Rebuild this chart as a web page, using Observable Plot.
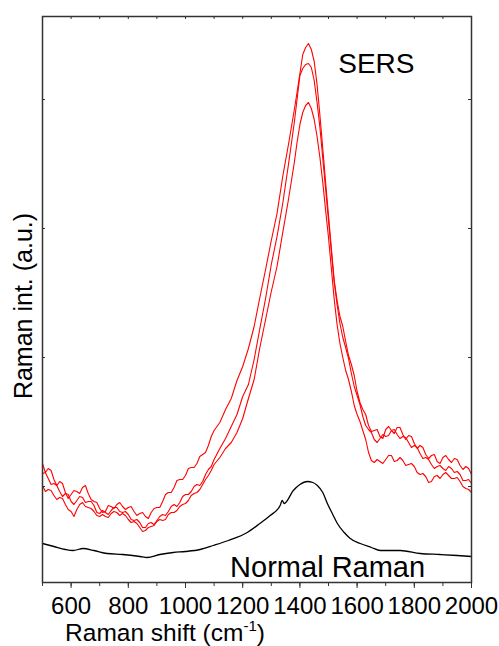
<!DOCTYPE html>
<html><head><meta charset="utf-8">
<script src="https://cdn.jsdelivr.net/npm/d3@7"></script>
<script src="https://cdn.jsdelivr.net/npm/@observablehq/plot@0.6"></script>
<style>body{margin:0;background:#fff} svg{display:block}</style>
</head><body><div id="chart"></div>
<script>
// Raman shift (cm-1) sampling for SERS spectra
const shift = [500,510,520,530,540,550,560,570,580,590,600,610,620,630,640,650,660,670,680,690,700,710,720,730,740,750,760,770,780,790,800,810,820,830,840,850,860,870,880,890,900,910,920,930,940,950,960,970,980,990,1000,1010,1020,1030,1040,1050,1060,1070,1080,1090,1100,
  1120,1140,1160,1180,1200,1220,1240,1260,1280,1300,1320,1340,1360,1380,
  1390,1400,1410,1420,1430,1440,1450,1460,1470,1480,
  1490,1500,1510,1520,1530,1540,1550,1560,1570,1580,1590,1600,1610,1620,1630,1640,1650,1660,1670,1680,1690,1700,1710,1720,1730,1740,1750,1760,1770,1780,1790,1800,1810,1820,1830,1840,1850,1860,1870,1880,1890,1900,1910,1920,1930,1940,1950,1960,1970,1980,1990,2000];
// SERS intensities (a.u.), three spectra
const sersA = [119,110,114,112,103,97,101,99,90,84,88,92,91,89,95,97,89,83,81,80,74,70,71,77,76,74,78,80,76,73,75,76,71,67,69,70,66,64,70,74,75,75,81,88,90,90,95,102,103,103,107,114,115,115,119,126,128,130,137,146,152,
  160,173,184,202,216,234,256,285,313,342,369,406,438,472,
  490,509,528,535,539,533,521,498,467,434,
  400,367,334,302,282,266,256,241,227,218,207,191,180,173,168,157,151,152,153,146,144,153,156,152,149,155,155,148,143,147,146,139,134,137,135,128,124,127,128,121,119,125,127,123,120,124,123,117,113,116,114,108];
const sersB = [109,110,104,98,99,97,91,86,89,88,81,78,82,86,85,80,81,81,77,70,69,72,70,68,72,75,75,71,70,71,68,63,62,63,60,55,55,59,60,58,62,66,68,67,71,76,78,76,80,86,88,88,91,96,98,97,101,108,113,116,123,
  134,144,156,168,186,198,223,254,284,318,346,379,418,459,
  483,507,514,518,519,515,502,480,455,424,
  393,362,331,300,278,259,245,235,224,209,196,187,178,166,157,153,150,143,140,144,148,146,147,152,153,148,144,146,145,140,135,137,135,129,124,125,123,118,114,116,117,114,112,116,114,110,111,108,102,102,103,99];
const sersC = [97,91,93,92,87,83,85,84,78,73,71,66,73,78,80,76,75,74,71,67,66,68,66,65,69,71,70,67,69,67,63,60,61,59,55,51,52,55,56,57,61,63,62,63,68,70,70,72,76,78,79,82,87,89,90,93,98,103,107,112,118,
  125,134,140,150,164,184,203,235,263,291,316,350,383,419,
  440,458,470,477,480,474,463,446,425,400,
  372,345,314,283,258,239,225,212,203,191,177,168,161,152,143,130,122,120,123,121,119,123,127,127,121,122,125,122,117,118,119,116,110,108,109,106,100,101,106,107,104,108,110,107,104,104,105,101,96,94,93,90];
// Normal Raman spectrum
const normalShift = [500,540,580,607,642,680,726,780,841,866,910,957,1000,1051,1097,1150,1216,1260,1296,1331,1338,1345,1377,1400,1426,1445,1461,1480,1496,1515,1531,1555,1576,1611,1650,1681,1751,1821,1891,1950,2000];
const normalInt = [39,36,33,32,34,32,29,28,26,25,28,30,31,33,37,42,50,59,67,77,82,79,92,98,101,100,97,90,79,68,59,50,44,39,35,32,32,29,28,27,26];
// Axis ticks
const xMinorTicks = [500,600,700,800,900,1000,1100,1200,1300,1400,1500,1600,1700,1800,1900,2000];
const xLabelTicks = [600,800,1000,1200,1400,1600,1800,2000];
const yTicks = [96,225,354,483];
const yDomain = [0,566];
const xDomain = [500,2000];
const labels = [{x:1534, y:510, text:"SERS"}, {x:1156, y:6, text:"Normal Raman"}];

const sers = [sersA, sersB, sersC].flatMap((s,i) => shift.map((x,j) => ({x, y:s[j], run:i})));
const normal = normalShift.map((x,i) => ({x, y:normalInt[i]}));

const W = 499, H = 646, mL = 42, mR = 28, mT = 16, mB = 64;
const plotW = W - mL - mR, plotH = H - mT - mB;
const font = "'Liberation Sans', Arial, sans-serif";

const chart = Plot.plot({
  width: W, height: H, marginLeft: mL, marginRight: mR, marginTop: mT, marginBottom: mB,
  style: {fontFamily: font, fontSize: "24px", color: "#000", background: "#fff"},
  x: {domain: xDomain, axis: null},
  y: {domain: yDomain, axis: null},
  marks: [
    Plot.line(normal, {x: "x", y: "y", stroke: "#000", strokeWidth: 1.3, curve: "monotone-x"}),
    Plot.line(sers, {x: "x", y: "y", z: "run", stroke: "#ff0000", strokeWidth: 1.1}),
    Plot.tickY(yTicks, {y: d => d, insetRight: plotW - 3, stroke: "#333"}),
    Plot.tickY(yTicks, {y: d => d, insetLeft: plotW - 3, stroke: "#333"}),
    Plot.tickX(xMinorTicks, {x: d => d, insetBottom: plotH - 3, stroke: "#333"}),
    Plot.tickX(xMinorTicks, {x: d => d, insetTop: plotH, insetBottom: -4, stroke: "#333"}),
    Plot.tickX(xLabelTicks, {x: d => d, insetTop: plotH, insetBottom: -6, stroke: "#333"}),
    Plot.axisX(xLabelTicks, {anchor: "bottom", tickSize: 0, tickPadding: 14, tickFormat: d => String(d), fontSize: 24, label: null}),
    Plot.text([labels[0]], {x: "x", y: "y", text: "text", fontSize: 28, textAnchor: "start", lineAnchor: "bottom", fill: "#000"}),
    Plot.text([labels[1]], {x: "x", y: "y", text: "text", fontSize: 29, textAnchor: "start", lineAnchor: "bottom", fill: "#000"}),
    Plot.frame({stroke: "#333", strokeWidth: 1.5})
  ]
});

const svg = d3.select(chart);
const xt = svg.append("text")
  .attr("x", 165).attr("y", 641)
  .attr("font-family", font).attr("font-size", 24.5).attr("fill", "#000");
xt.append("tspan").text("Raman shift (cm");
xt.append("tspan").attr("dy", -10).attr("font-size", 15).text("-1");
xt.append("tspan").attr("dy", 10).text(")");

svg.append("text")
  .attr("transform", "translate(32,306) rotate(-90)")
  .attr("text-anchor", "middle")
  .attr("font-family", font).attr("font-size", 25).attr("fill", "#000")
  .text("Raman int. (a.u.)");

document.getElementById("chart").append(chart);
</script>
</body></html>
